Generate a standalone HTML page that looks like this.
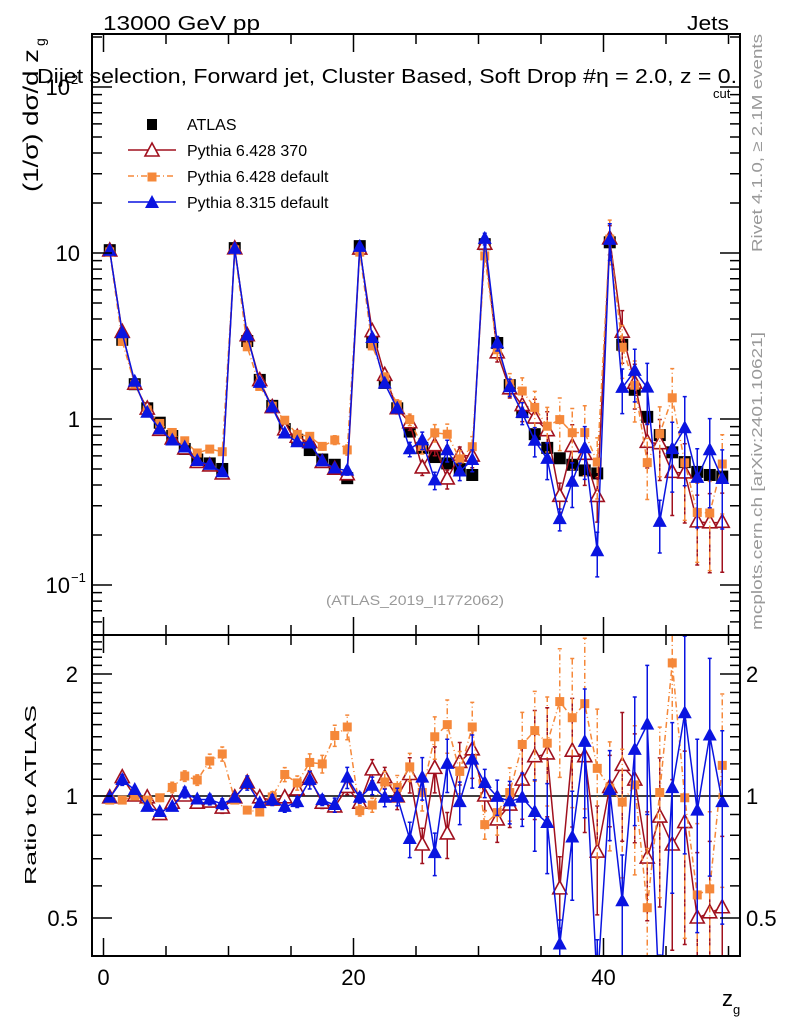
<!DOCTYPE html>
<html><head><meta charset="utf-8"><style>
html,body{margin:0;padding:0;background:#fff;width:786px;height:1024px;overflow:hidden}
svg{display:block;font-family:"Liberation Sans",sans-serif;overflow:hidden}
</style></head><body>
<svg id="c" width="786" height="1024" viewBox="0 0 786 1024" xmlns="http://www.w3.org/2000/svg">
<text x="103" y="30" font-size="20" textLength="157" lengthAdjust="spacingAndGlyphs">13000 GeV pp</text>
<text x="729" y="30" font-size="20" text-anchor="end" textLength="42" lengthAdjust="spacingAndGlyphs">Jets</text>
<g id="plot"></g>
<text x="37" y="83" font-size="20" textLength="700" lengthAdjust="spacingAndGlyphs">Dijet selection, Forward jet, Cluster Based, Soft Drop #η = 2.0, z    = 0.</text>
<text x="713" y="98" font-size="13">cut</text>
<text transform="translate(38,192) rotate(-90)" font-size="21" textLength="143" lengthAdjust="spacingAndGlyphs">(1/σ) dσ/d z</text>
<text transform="translate(45,46) rotate(-90)" font-size="14">g</text>
<text transform="translate(36,885) rotate(-90)" font-size="16" textLength="180" lengthAdjust="spacingAndGlyphs">Ratio to ATLAS</text>
<text x="722" y="1006" font-size="22">z</text>
<text x="733" y="1014" font-size="13">g</text>
<text transform="translate(762,252) rotate(-90)" font-size="15" fill="#999" textLength="218" lengthAdjust="spacingAndGlyphs">Rivet 4.1.0, ≥ 2.1M events</text>
<text transform="translate(762,630) rotate(-90)" font-size="15" fill="#999" textLength="298" lengthAdjust="spacingAndGlyphs">mcplots.cern.ch [arXiv:2401.10621]</text>
<text x="415" y="605" font-size="14" fill="#999" text-anchor="middle" textLength="178" lengthAdjust="spacingAndGlyphs">(ATLAS_2019_I1772062)</text>
</svg>
<script>
const atlas=[10.4,3.0,1.62,1.16,0.95,0.79,0.66,0.57,0.54,0.5,10.7,2.95,1.72,1.2,0.87,0.75,0.65,0.57,0.53,0.44,11,2.9,1.65,1.16,0.84,0.67,0.59,0.54,0.5,0.46,11.3,2.87,1.6,1.1,0.81,0.67,0.58,0.53,0.49,0.47,11.6,2.8,1.5,1.03,0.8,0.63,0.55,0.48,0.46,0.45];
const ratioP8=[0.99,1.095,1.035,0.94,0.913,0.94,1.02,0.98,0.98,0.955,0.99,1.077,0.96,0.977,0.94,0.966,1.095,0.977,0.95,1.11,0.99,1.06,0.99,0.995,0.783,1.11,0.723,1.2,0.966,1.23,1.077,0.995,0.97,0.99,0.913,0.858,0.43,0.79,1.36,0.34,1.035,0.55,1.3,1.5,0.3,1.046,1.6,0.92,1.41,0.966];
const ratioP6a=[0.99,1.11,1.0,0.99,0.9,0.96,1.0,0.96,0.966,0.934,0.99,1.077,0.99,0.977,0.99,1.035,1.11,0.96,0.94,1.05,0.96,1.16,1.11,0.995,1.13,0.757,1.17,0.806,1.21,1.3,1.0,0.873,0.95,1.095,1.25,1.27,0.59,1.29,1.25,0.727,1.05,1.19,1.095,0.703,0.887,0.757,0.86,0.5,0.515,0.53];
const ratioP6d=[0.977,0.977,1.0,0.977,0.99,1.05,1.12,1.095,1.22,1.27,0.977,0.923,0.913,0.995,1.13,1.077,1.21,1.2,1.41,1.48,0.92,0.95,1.083,1.05,1.18,1.02,1.4,1.5,1.15,1.48,0.85,0.91,1.02,1.34,1.45,1.35,1.71,1.56,1.69,1.17,1.046,0.966,1.065,0.53,1.02,2.13,0.99,0.57,0.59,1.19];
const errP8=[0.02,0.03,0.02,0.02,0.02,0.02,0.03,0.02,0.03,0.03,0.02,0.04,0.02,0.03,0.03,0.03,0.05,0.03,0.04,0.06,0.03,0.05,0.05,0.05,0.1,0.12,0.12,0.15,0.12,0.15,0.08,0.1,0.12,0.15,0.2,0.25,0.15,0.3,0.35,0.3,0.25,0.3,0.35,0.4,0.35,0.45,0.55,0.5,0.55,0.5];
const errP6a=[0.02,0.03,0.02,0.02,0.02,0.02,0.02,0.02,0.02,0.03,0.02,0.03,0.02,0.02,0.02,0.03,0.04,0.03,0.03,0.04,0.03,0.06,0.06,0.07,0.1,0.1,0.13,0.13,0.12,0.15,0.08,0.12,0.12,0.2,0.3,0.3,0.2,0.35,0.35,0.3,0.2,0.35,0.3,0.3,0.4,0.45,0.5,0.45,0.5,0.5];
const errP6d=[0.02,0.02,0.02,0.02,0.02,0.03,0.03,0.03,0.04,0.04,0.02,0.02,0.02,0.03,0.04,0.04,0.05,0.05,0.06,0.07,0.03,0.04,0.06,0.07,0.08,0.1,0.12,0.15,0.12,0.15,0.08,0.12,0.15,0.2,0.25,0.3,0.35,0.4,0.45,0.4,0.3,0.35,0.4,0.4,0.45,0.5,0.55,0.5,0.55,0.5];
const xTicks=[0,20,40];
const yTicksMain=[{v:100,t:"10",e:"2"},{v:10,t:"10",e:""},{v:1,t:"1",e:""},{v:0.1,t:"10",e:"−1"}];
const yTicksRatio=[{v:2,t:"2"},{v:1,t:"1"},{v:0.5,t:"0.5"}];

const NS="http://www.w3.org/2000/svg";
const L=92,R=740,T=34,M=635,B=956;
const X=v=>103.5+12.5*v;
const YM=v=>419-166*Math.log10(v);
const YR=v=>796-122*Math.log2(v);
const g=document.getElementById('plot');
function el(tag,a,parent){const e=document.createElementNS(NS,tag);for(const k in a)e.setAttribute(k,a[k]);(parent||g).appendChild(e);return e;}
const defs=el('defs',{});
const c1=el('clipPath',{id:'cm'},defs);el('rect',{x:L,y:T,width:R-L,height:M-T},c1);
const c2=el('clipPath',{id:'cr'},defs);el('rect',{x:L,y:M,width:R-L,height:B-M},c2);
const gm=el('g',{'clip-path':'url(#cm)'});


const gr=el('g',{'clip-path':'url(#cr)'});


const rl=el('line',{x1:L,x2:R,y1:YR(1),y2:YR(1),stroke:'#000','stroke-width':1.5},gr);



const series=[
 {name:'pythia6-370',ratio:ratioP6a,err:errP6a,col:'#a0101e',dash:'',mk:'otri'},
 {name:'pythia6-default',ratio:ratioP6d,err:errP6d,col:'#f5883a',dash:'6,3,1,3',mk:'sq'},
 {name:'pythia8-default',ratio:ratioP8,err:errP8,col:'#0a14e0',dash:'',mk:'tri'}
];
function marker(type,x,y,col,parent){
  let e;
  if(type==='sq')e=el('rect',{x:x-4.5,y:y-4.5,width:9,height:9,fill:col},parent);
  else if(type==='bsq')e=el('rect',{x:x-6,y:y-6,width:12,height:12,fill:'#000'},parent);
  else if(type==='tri')e=el('path',{d:`M${x},${y-8}L${x+7},${y+5}L${x-7},${y+5}Z`,fill:col},parent);
  else e=el('path',{d:`M${x},${y-8}L${x+7},${y+5}L${x-7},${y+5}Z`,fill:'#fff',stroke:col,'stroke-width':1.6},parent);
  return e;
}
atlas.forEach((v,i)=>{
  const m=marker('bsq',X(i+0.5),YM(v),'#000',gm);
  
  
});
series.forEach(s=>{
  for(const [panel,Y,val] of [[gm,YM,(i)=>atlas[i]*s.ratio[i]],[gr,YR,(i)=>s.ratio[i]]]){
    const gs=el('g',{},panel);
    
    
    let d='';
    atlas.forEach((a,i)=>{
      const v=val(i),x=X(i+0.5);
      const lo=Math.max(v*(1-s.err[i]),1e-4),hi=v*(1+s.err[i]);
      const eb=el('path',{d:`M${x},${Y(lo)}V${Y(hi)}M${x-2},${Y(lo)}h4M${x-2},${Y(hi)}h4`,stroke:s.col,'stroke-width':1.5,'stroke-dasharray':s.dash,fill:'none'},gs);
      
      
      d+=(i?'L':'M')+x+','+Y(v);
    });
    const ln=el('path',{d:d,stroke:s.col,'stroke-width':1.5,'stroke-dasharray':s.dash,fill:'none'},gs);
    
    
    atlas.forEach((a,i)=>{
      const m=marker(s.mk,X(i+0.5),Y(val(i)),s.col,gs);
      
      
    });
  }
});
const f1=el('rect',{x:L,y:T,width:R-L,height:M-T,fill:'none',stroke:'#000','stroke-width':2});


const f2=el('rect',{x:L,y:M,width:R-L,height:B-M,fill:'none',stroke:'#000','stroke-width':2});


let tk='';
for(let v=0;v<=50;v+=5){const x=X(v),len=(v%20===0)?18:10;
  tk+=`M${x},${T}v${len}M${x},${M}v-${len}M${x},${M}v${len}M${x},${B}v-${len}`;}
for(let dec=-2;dec<=2;dec++)for(let k=1;k<10;k++){const v=k*Math.pow(10,dec);const y=YM(v);if(y<T||y>M)continue;
  const len=k===1?20:10;tk+=`M${L},${y}h${len}M${R},${y}h-${len}`;}
for(let v=0.4;v<=2.5;v+=0.1){const y=YR(v);if(y<M||y>B)continue;const maj=[0.5,1,2].some(q=>Math.abs(q-v)<1e-6);
  const len=maj?20:10;tk+=`M${L},${y}h${len}M${R},${y}h-${len}`;}
const tp=el('path',{d:tk,stroke:'#000','stroke-width':1.5,fill:'none'});


xTicks.forEach(v=>{
  const t=el('text',{x:X(v),y:985,'font-size':22,'text-anchor':'middle'});t.textContent=v;
  
  
});
yTicksMain.forEach(o=>{
  const t=el('text',{x:o.e?70:80,y:YM(o.v)+8,'font-size':22,'text-anchor':'end'});t.textContent=o.t;
  
  
  if(o.e){const s=el('text',{x:71,y:YM(o.v)-3,'font-size':13});s.textContent=o.e;
    
    }
});
yTicksRatio.forEach(o=>{
  for(const [x,anc] of [[78,'end'],[746,'start']]){
    const t=el('text',{x:x,y:YR(o.v)+8,'font-size':22,'text-anchor':anc});t.textContent=o.t;
    
    
  }
});
const leg=[['ATLAS','#000','','bsq'],['Pythia 6.428 370','#a0101e','','otri'],['Pythia 6.428 default','#f5883a','6,3,1,3','sq'],['Pythia 8.315 default','#0a14e0','','tri']];
leg.forEach((l,i)=>{
  const y=124+26*i;
  const lg=el('g',{});
  
  
  if(i>0)el('line',{x1:128,x2:176,y1:y,y2:y,stroke:l[1],'stroke-width':1.5,'stroke-dasharray':l[2]},lg);
  if(l[3]==='bsq')el('rect',{x:147,y:y-5,width:10,height:11,fill:'#000'},lg);else marker(l[3],152,y+1,l[1],lg);
  const t=el('text',{x:187,y:y+6,'font-size':16},lg);t.textContent=l[0];
});
</script>
</body></html>
